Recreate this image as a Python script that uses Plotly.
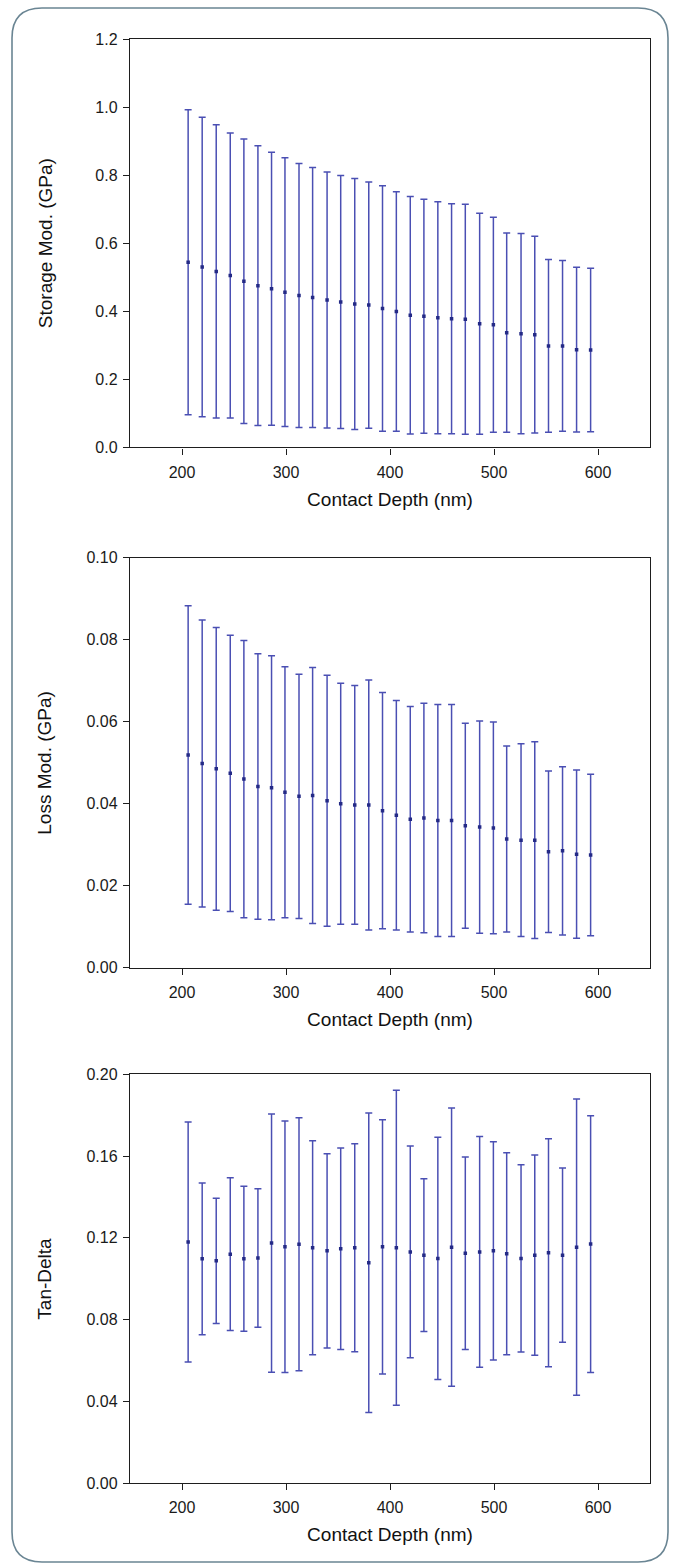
import plotly.graph_objects as go

# ---------------- data ----------------
depth = [205.9, 219.4, 232.9, 246.4, 259.5, 273.0, 286.1, 299.0, 312.5, 325.6,
         339.5, 352.6, 366.1, 379.6, 392.8, 406.1, 419.5, 432.6, 446.0, 459.2,
         472.4, 486.2, 499.4, 512.2, 526.0, 539.2, 552.4, 565.9, 579.4, 592.9]

storage_mean = [0.544, 0.530, 0.517, 0.505, 0.488, 0.475, 0.466, 0.456, 0.446, 0.440,
                0.433, 0.427, 0.421, 0.418, 0.408, 0.399, 0.388, 0.385, 0.381, 0.378,
                0.376, 0.363, 0.360, 0.337, 0.334, 0.331, 0.298, 0.298, 0.287, 0.286]
storage_sd = [0.448, 0.440, 0.431, 0.419, 0.418, 0.411, 0.401, 0.395, 0.388, 0.382,
              0.376, 0.372, 0.369, 0.362, 0.361, 0.352, 0.349, 0.344, 0.341, 0.338,
              0.338, 0.325, 0.316, 0.293, 0.294, 0.289, 0.254, 0.251, 0.242, 0.240]

loss_mean = [0.0519, 0.0498, 0.0485, 0.0474, 0.0460, 0.0442, 0.0439, 0.0428, 0.0418, 0.0420,
             0.0407, 0.0400, 0.0397, 0.0397, 0.0383, 0.0372, 0.0362, 0.0365, 0.0359, 0.0359,
             0.0346, 0.0343, 0.0341, 0.0314, 0.0311, 0.0311, 0.0283, 0.0285, 0.0277, 0.0275]
loss_sd = [0.0364, 0.0350, 0.0345, 0.0337, 0.0338, 0.0324, 0.0322, 0.0306, 0.0298, 0.0312,
           0.0306, 0.0294, 0.0291, 0.0305, 0.0288, 0.0280, 0.0275, 0.0280, 0.0283, 0.0283,
           0.0250, 0.0259, 0.0258, 0.0227, 0.0235, 0.0240, 0.0197, 0.0205, 0.0205, 0.0197]

tan_mean = [0.1179, 0.1097, 0.1087, 0.1120, 0.1097, 0.1101, 0.1174, 0.1156, 0.1168, 0.1151,
            0.1136, 0.1146, 0.1151, 0.1078, 0.1156, 0.1151, 0.1131, 0.1115, 0.1099, 0.1154,
            0.1124, 0.1131, 0.1136, 0.1122, 0.1099, 0.1115, 0.1127, 0.1115, 0.1154, 0.1169]
tan_sd = [0.0587, 0.0371, 0.0306, 0.0374, 0.0355, 0.0339, 0.0632, 0.0615, 0.0619, 0.0524,
          0.0475, 0.0493, 0.0509, 0.0733, 0.0622, 0.0771, 0.0518, 0.0374, 0.0593, 0.0681,
          0.0471, 0.0565, 0.0534, 0.0494, 0.0458, 0.0490, 0.0558, 0.0426, 0.0725, 0.0628]

x_title = "Contact Depth (nm)"
y_titles = ["Storage Mod. (GPa)", "Loss Mod. (GPa)", "Tan-Delta"]
x_ticks = [200, 300, 400, 500, 600]
y1_ticks = [0.0, 0.2, 0.4, 0.6, 0.8, 1.0, 1.2]
y2_ticks = [0.00, 0.02, 0.04, 0.06, 0.08, 0.10]
y3_ticks = [0.00, 0.04, 0.08, 0.12, 0.16, 0.20]

# ---------------- figure ----------------
W, H = 680, 1568
ML, MR, MT, MB = 130, 30, 39, 85
PW, PH = W - ML - MR, H - MT - MB

def py(p):  # pixel row -> paper y
    return (H - MB - p) / PH

def px(p):  # pixel column -> paper x
    return (p - ML) / PW

BAR = "#4a4fb3"
DOT = "#242a86"
AX = "#1e1e1e"
FONT = "Liberation Sans, Arial, sans-serif"

fig = go.Figure()
series = [(storage_mean, storage_sd), (loss_mean, loss_sd), (tan_mean, tan_sd)]
for i, (m, s) in enumerate(series):
    fig.add_trace(go.Scatter(
        x=depth, y=m, mode="markers",
        marker=dict(symbol="square", size=3.5, color=DOT, line=dict(width=0)),
        error_y=dict(type="data", array=s, visible=True, color=BAR, thickness=1.5, width=3.5),
        xaxis="x" if i == 0 else f"x{i+1}", yaxis="y" if i == 0 else f"y{i+1}",
        showlegend=False, hoverinfo="skip"))

domains = [(py(447.3), 1.0), (py(967.7), py(557.7)), (0.0, py(1074.3))]
yranges = [[0, 1.2], [0, 0.10], [0, 0.20]]
yticks = [(y1_ticks, ".1f"), (y2_ticks, ".2f"), (y3_ticks, ".2f")]

axis_common = dict(showline=True, mirror=True, linecolor=AX, linewidth=1.4,
                   ticks="outside", ticklen=6, tickwidth=1.4, tickcolor=AX,
                   showgrid=False, zeroline=False,
                   tickfont=dict(family=FONT, size=16, color="#1a1a1a"))

for i in range(3):
    sx = "" if i == 0 else str(i + 1)
    fig.layout[f"xaxis{sx}"] = dict(
        axis_common, domain=[0, 1], range=[150, 650], tickvals=x_ticks,
        anchor=f"y{sx}", ticklabelstandoff=4,
        title=dict(text=x_title, font=dict(family=FONT, size=19, color="#111"), standoff=12))
    tv, fmt = yticks[i]
    fig.layout[f"yaxis{sx}"] = dict(
        axis_common, domain=list(domains[i]), range=yranges[i], tickvals=tv,
        tickformat=fmt, anchor=f"x{sx}", ticklabelstandoff=2)
    d0, d1 = domains[i]
    fig.add_annotation(text=y_titles[i], xref="paper", yref="paper",
                       x=px(45), y=(d0 + d1) / 2, textangle=-90, showarrow=False,
                       xanchor="center", yanchor="middle",
                       font=dict(family=FONT, size=19, color="#111"))

# rounded outer frame
x0, x1, y0, y1, r = 12, 668, 8, 1562, 30
def P(a, b):
    return f"{px(a):.5f},{py(b):.5f}"
path = (f"M {P(x0 + r, y0)} L {P(x1 - r, y0)} Q {P(x1, y0)} {P(x1, y0 + r)} "
        f"L {P(x1, y1 - r)} Q {P(x1, y1)} {P(x1 - r, y1)} "
        f"L {P(x0 + r, y1)} Q {P(x0, y1)} {P(x0, y1 - r)} "
        f"L {P(x0, y0 + r)} Q {P(x0, y0)} {P(x0 + r, y0)} Z")
fig.add_shape(type="path", path=path, xref="paper", yref="paper",
              line=dict(color="#6a8593", width=1.6), layer="below")

fig.update_layout(width=W, height=H, margin=dict(l=ML, r=MR, t=MT, b=MB, autoexpand=False),
                  paper_bgcolor="white", plot_bgcolor="white",
                  font=dict(family=FONT))

fig.write_html("out.html")
